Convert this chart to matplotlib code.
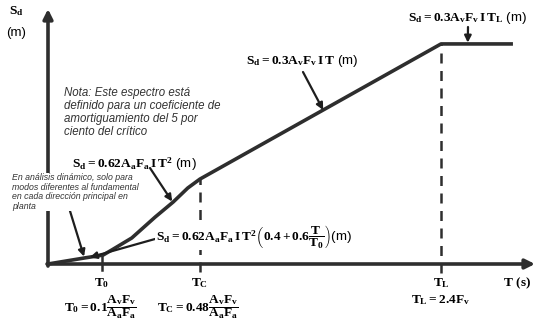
import matplotlib
matplotlib.use("Agg")
import matplotlib.pyplot as plt

# schematic spectrum (arbitrary units)
T_curve = [0, 0.76, 1.13, 1.31, 1.72, 2.20, 2.57, 2.87, 3.12]
Sd_curve = [0, 0.24, 0.35, 0.55, 1.02, 1.84, 2.43, 2.98, 3.33]
T0 = 1.11
TC = 3.12
TL = 8.07
T_end = 9.51
Sd_C = 3.33
Sd_L = 8.63

T_all = T_curve + [TL, T_end]
Sd_all = Sd_curve + [Sd_L, Sd_L]

plt.rcParams['mathtext.fontset'] = 'custom'
plt.rcParams['mathtext.rm'] = 'Liberation Serif:bold'
plt.rcParams['mathtext.it'] = 'Liberation Serif:bold'
plt.rcParams['mathtext.bf'] = 'Liberation Serif:bold'
plt.rcParams['mathtext.sf'] = 'Liberation Sans'

fig = plt.figure(figsize=(5.37, 3.23), dpi=100)
ax = fig.add_axes([0, 0, 1, 1])
ax.set_xlim(-48 / 48.7, (537 - 48) / 48.7)
ax.set_ylim(-59 / 25.5, (323 - 59) / 25.5)
ax.axis('off')

dark = '#2e2e2e'

# axes with arrows
ax.annotate('', xy=(10.0, 0), xytext=(-0.02, 0),
            arrowprops=dict(arrowstyle='-|>', lw=2.6, color=dark, mutation_scale=14, shrinkA=0, shrinkB=0))
ax.annotate('', xy=(0, 10.0), xytext=(0, -0.08),
            arrowprops=dict(arrowstyle='-|>', lw=2.6, color=dark, mutation_scale=14, shrinkA=0, shrinkB=0))

# spectrum
ax.plot(T_all, Sd_all, color=dark, lw=2.6, solid_joinstyle='round', zorder=3)

# reference lines
ax.plot([T0, T0], [-0.25, 0.3], color=dark, lw=1.8)
ax.plot([TC, TC], [-0.3, Sd_C], color=dark, lw=1.8, dashes=(4, 3))
ax.plot([TL, TL], [-0.35, Sd_L], color=dark, lw=1.8, dashes=(4, 3))

def fx(px):
    return px / 537

def fy(py):
    return 1 - py / 323

serif = dict(fontsize=9.6, color='black', transform=ax.transAxes)

# axis labels
ax.text(fx(16), fy(11), '$S_d$', ha='center', va='center', **serif)
ax.text(fx(16), fy(33), '(m)', ha='center', va='center', fontsize=9.5,
        family='Liberation Sans', transform=ax.transAxes)
ax.text(fx(517), fy(283), '$T\\ \\mathbf{(s)}$', ha='center', va='center', **serif)
ax.text(fx(102), fy(283), '$T_0$', ha='center', va='center', **serif)
ax.text(fx(199), fy(283), '$T_C$', ha='center', va='center', **serif)
ax.text(fx(441), fy(283), '$T_L$', ha='center', va='center', **serif)

ax.text(fx(100), fy(307), '$T_0 = 0.1\\dfrac{A_vF_v}{A_aF_a}$', ha='center', va='center', **serif)
ax.text(fx(198), fy(307), '$T_C = 0.48\\dfrac{A_vF_v}{A_aF_a}$', ha='center', va='center', **serif)
ax.text(fx(441), fy(300), '$T_L = 2.4F_v$', ha='center', va='center', **serif)

arrow = dict(arrowstyle='-|>', lw=1.6, color='#1e1e1e', mutation_scale=10, shrinkA=0, shrinkB=0)

# formula labels with arrows
ax.text(fx(467), fy(18), '$S_d = 0.3A_vF_v\\,I\\,T_L\\ \\mathsf{(m)}$', ha='center', va='center', **serif)
ax.annotate('', xy=(8.62, Sd_L + 0.05), xytext=(fx(468), fy(27)), textcoords='axes fraction',
            arrowprops=arrow)

ax.text(fx(246), fy(61), '$S_d = 0.3A_vF_v\\,I\\,T\\ \\mathsf{(m)}$', ha='left', va='center', **serif)
ax.annotate('', xy=(5.65, 6.04), xytext=(fx(303), fy(72)), textcoords='axes fraction',
            arrowprops=arrow)

ax.text(fx(72), fy(164), '$S_d = 0.62A_aF_a\\,I\\,T^2\\ \\mathsf{(m)}$', ha='left', va='center', **serif)
ax.annotate('', xy=(2.55, 2.45), xytext=(fx(150), fy(168)), textcoords='axes fraction',
            arrowprops=arrow)

ax.text(fx(156), fy(236),
        '$S_d = 0.62A_aF_a\\,I\\,T^2\\left(0.4+0.6\\dfrac{T}{T_0}\\right)\\mathsf{(m)}$',
        ha='left', va='center', zorder=5,
        bbox=dict(facecolor='white', edgecolor='none', pad=0.5), **serif)
ax.annotate('', xy=(0.86, 0.26), xytext=(fx(155), fy(239)), textcoords='axes fraction',
            arrowprops=arrow)

# notes
ax.text(fx(64), fy(87), 'Nota: Este espectro está\ndefinido para un coeficiente de\n'
        'amortiguamiento del 5 por\nciento del crítico',
        ha='left', va='top', fontsize=8.3, style='italic', family='Liberation Sans',
        color='#333333', linespacing=1.1, transform=ax.transAxes)

ax.text(fx(12), fy(173), 'En análisis dinámico, solo para\nmodos diferentes al fundamental\n'
        'en cada dirección principal en\nplanta',
        ha='left', va='top', fontsize=6.3, style='italic', family='Liberation Sans',
        color='#333333', linespacing=1.08, transform=ax.transAxes, zorder=5,
        bbox=dict(facecolor='white', edgecolor='none', pad=0.3))
ax.annotate('', xy=(0.74, 0.29), xytext=(fx(70), fy(211)), textcoords='axes fraction',
            arrowprops=arrow)

fig.savefig('out.png', dpi=100)
